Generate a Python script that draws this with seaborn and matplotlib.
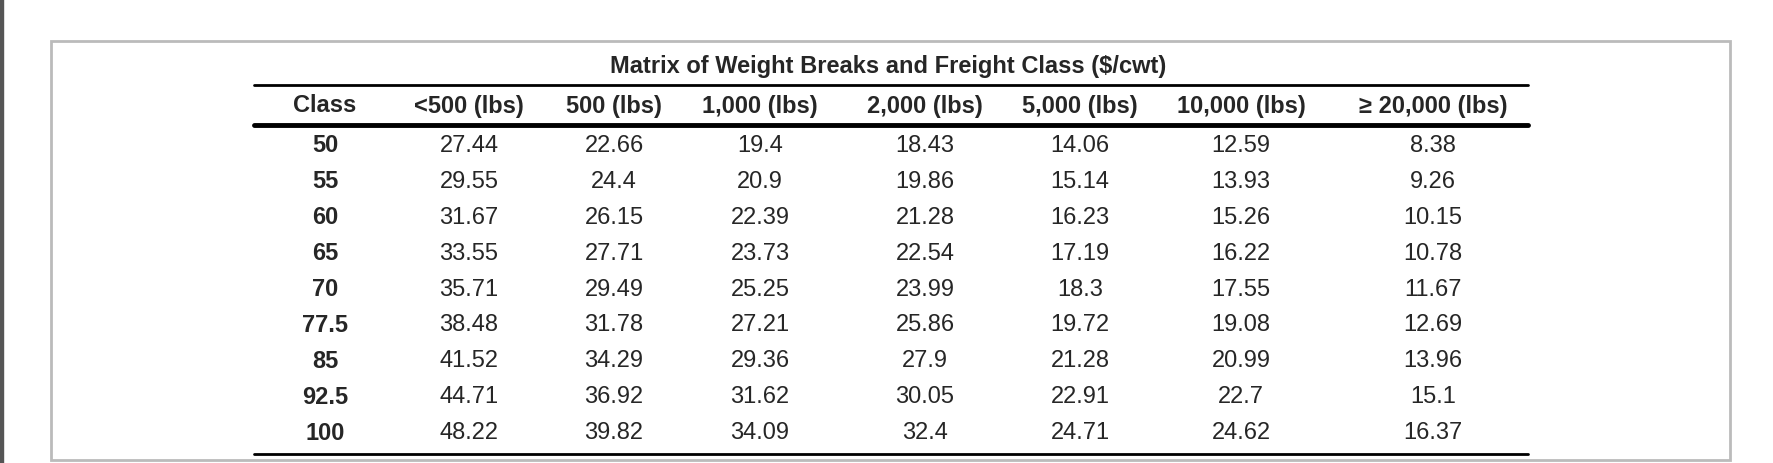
import seaborn as sns
import pandas as pd
from matplotlib import pyplot as plt
from matplotlib.patches import Rectangle

classes = ["50", "55", "60", "65", "70", "77.5", "85", "92.5", "100"]
headers = ["Class", "<500 (lbs)", "500 (lbs)", "1,000 (lbs)", "2,000 (lbs)",
           "5,000 (lbs)", "10,000 (lbs)", "\u2265 20,000 (lbs)"]
lt500 = ["27.44", "29.55", "31.67", "33.55", "35.71", "38.48", "41.52", "44.71", "48.22"]
w500 = ["22.66", "24.4", "26.15", "27.71", "29.49", "31.78", "34.29", "36.92", "39.82"]
w1000 = ["19.4", "20.9", "22.39", "23.73", "25.25", "27.21", "29.36", "31.62", "34.09"]
w2000 = ["18.43", "19.86", "21.28", "22.54", "23.99", "25.86", "27.9", "30.05", "32.4"]
w5000 = ["14.06", "15.14", "16.23", "17.19", "18.3", "19.72", "21.28", "22.91", "24.71"]
w10000 = ["12.59", "13.93", "15.26", "16.22", "17.55", "19.08", "20.99", "22.7", "24.62"]
w20000 = ["8.38", "9.26", "10.15", "10.78", "11.67", "12.69", "13.96", "15.1", "16.37"]
title = "Matrix of Weight Breaks and Freight Class ($/cwt)"

df = pd.DataFrame(dict(zip(headers, [classes, lt500, w500, w1000, w2000, w5000, w10000, w20000])))

sns.set_theme(style="white")
plt.rcParams["font.family"] = ["Liberation Sans", "DejaVu Sans"]

fig = plt.figure(figsize=(17.73, 4.64), dpi=100)
ax = fig.add_axes([0, 0, 1, 1])
ax.set_xlim(0, 1773)
ax.set_ylim(464, 0)
ax.axis("off")

# page chrome
ax.add_patch(Rectangle((0, 0), 3, 464, color="#555555"))
ax.add_patch(Rectangle((51, 42), 1679, 419, fill=False, edgecolor="#bbbbbb", lw=2))

col_x = [325, 469, 614, 760, 925, 1080, 1241, 1433]
row_y0, row_dy = 146, 35.9
fs = 17

ax.text(888, 67, title, ha="center", va="center", fontsize=fs, fontweight="bold")
ax.plot([254, 1528], [86, 86], color="black", lw=2)
ax.plot([254, 1528], [126, 126], color="black", lw=3.5)
ax.plot([254, 1528], [455, 455], color="black", lw=2)

for x, h in zip(col_x, df.columns):
    ax.text(x, 106, h, ha="center", va="center", fontsize=fs, fontweight="bold")
    for i, v in enumerate(df[h]):
        ax.text(x, row_y0 + i * row_dy, v, ha="center", va="center", fontsize=fs,
                fontweight="bold" if h == "Class" else "normal")

fig.savefig("out.png", dpi=100)
